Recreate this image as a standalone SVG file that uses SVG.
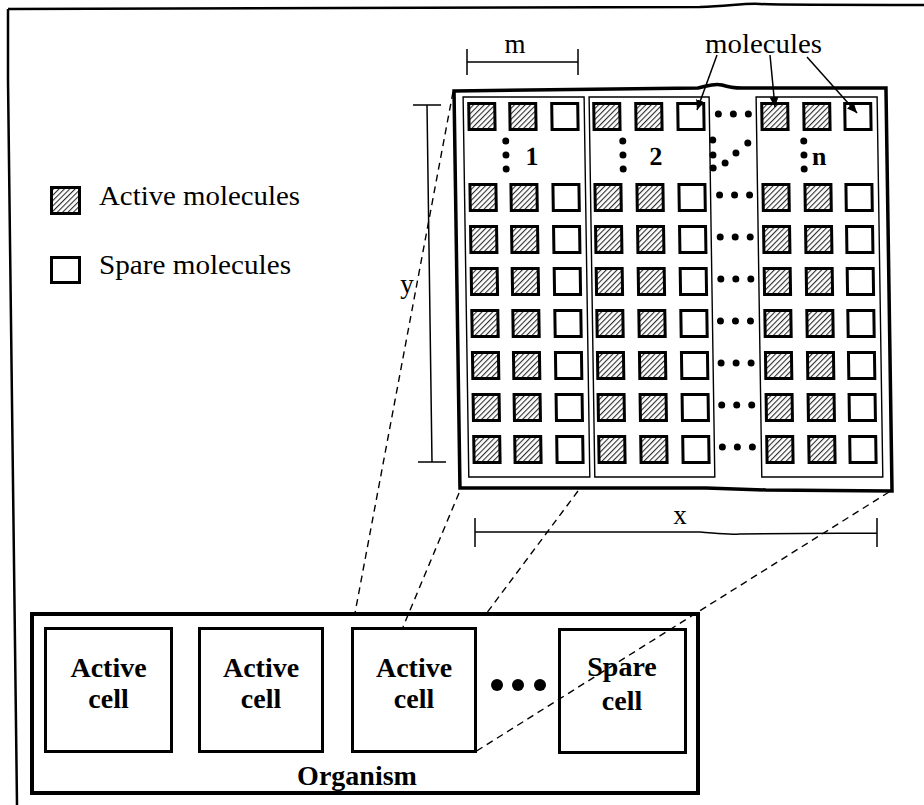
<svg xmlns="http://www.w3.org/2000/svg" xmlns:xlink="http://www.w3.org/1999/xlink" width="924" height="805" viewBox="0 0 924 805">
  <style>
    .ink { fill: none; stroke: #000; }
    .act { fill: url(#hatch); stroke: #000; stroke-width: 3; }
    .spr { fill: #fff; stroke: #000; stroke-width: 3; }
    .cellbox { fill: none; stroke: #000; stroke-width: 1.4; }
    .dot { fill: #000; }
    .serif { font-family: "Liberation Serif", "Times New Roman", serif; fill: #000; }
    .bold { font-weight: bold; }
    .dash { fill: none; stroke: #000; stroke-width: 1.4; stroke-dasharray: 7 5; }
    .dim { fill: none; stroke: #000; stroke-width: 1.5; }
    .lead { fill: none; stroke: #000; stroke-width: 1.5; }
    .node { fill: #fff; stroke: #000; stroke-width: 3; }
  </style>
  <defs>
    <pattern id="hatch" patternUnits="userSpaceOnUse" width="3.8" height="3.8" patternTransform="rotate(45)">
      <rect width="3.8" height="3.8" fill="#fff"/>
      <line x1="0.6" y1="0" x2="0.6" y2="3.8" stroke="#000" stroke-width="0.9"/>
    </pattern>
    <rect id="a" width="26" height="26" class="act"/>
    <rect id="s" width="26" height="26" class="spr"/>
    <marker id="tip" markerUnits="userSpaceOnUse" markerWidth="12" markerHeight="10" refX="10" refY="5" orient="auto">
      <path d="M0,0.5 L10,5 L0,9.5 Z" fill="#000"/>
    </marker>
  </defs>

  <rect width="924" height="805" fill="#fff"/>

  <!-- page frame -->
  <g id="frame" class="ink" stroke-width="2.5">
    <path d="M8,9 L700,7 C730,6 745,3 760,4 C775,5 800,5 924,5"/>
    <path d="M8,9 L8,80 L17,805"/>
  </g>

  <!-- legend -->
  <g id="legend">
    <rect x="51.5" y="187.5" width="28" height="26" class="act"/>
    <text x="99" y="205" class="serif" font-size="27" textLength="201" lengthAdjust="spacingAndGlyphs">Active molecules</text>
    <rect x="51.5" y="257.5" width="28" height="25" class="spr"/>
    <text x="99" y="274" class="serif" font-size="27" textLength="192" lengthAdjust="spacingAndGlyphs">Spare molecules</text>
  </g>

  <!-- cell array: molecules grouped into cells 1, 2 ... n -->
  <g id="cell-array" transform="matrix(1 0 0.015 1 -1.35 0)">
    <path id="array-frame" class="ink" stroke-width="3.5" d="M454,91 L698,88 C708,86 714,83 722,85 C728,87 734,88 742,88 L886,88 L886,491 L760,490 L700,488 L454,488 Z"/>

    <g id="cell-1">
      <rect class="cellbox" x="463" y="97" width="121" height="380"/>
      <use xlink:href="#a" x="468.5" y="103.5"/><use xlink:href="#a" x="509.5" y="103.5"/><use xlink:href="#s" x="551.5" y="103.5"/>
      <use xlink:href="#a" x="468.5" y="184.5"/><use xlink:href="#a" x="509.5" y="184.5"/><use xlink:href="#s" x="551.5" y="184.5"/>
      <use xlink:href="#a" x="468.5" y="226.5"/><use xlink:href="#a" x="509.5" y="226.5"/><use xlink:href="#s" x="551.5" y="226.5"/>
      <use xlink:href="#a" x="468.5" y="268.5"/><use xlink:href="#a" x="509.5" y="268.5"/><use xlink:href="#s" x="551.5" y="268.5"/>
      <use xlink:href="#a" x="468.5" y="310.5"/><use xlink:href="#a" x="509.5" y="310.5"/><use xlink:href="#s" x="551.5" y="310.5"/>
      <use xlink:href="#a" x="468.5" y="352.5"/><use xlink:href="#a" x="509.5" y="352.5"/><use xlink:href="#s" x="551.5" y="352.5"/>
      <use xlink:href="#a" x="468.5" y="394.5"/><use xlink:href="#a" x="509.5" y="394.5"/><use xlink:href="#s" x="551.5" y="394.5"/>
      <use xlink:href="#a" x="468.5" y="436.5"/><use xlink:href="#a" x="509.5" y="436.5"/><use xlink:href="#s" x="551.5" y="436.5"/>
      <circle class="dot" cx="505" cy="141" r="3.5"/><circle class="dot" cx="505" cy="155" r="3.5"/><circle class="dot" cx="505" cy="169" r="3.5"/>
      <text x="531" y="165" class="serif bold" font-size="26" text-anchor="middle">1</text>
    </g>

    <g id="cell-2">
      <rect class="cellbox" x="589" y="97" width="120" height="380"/>
      <use xlink:href="#a" x="593.5" y="103.5"/><use xlink:href="#a" x="635.5" y="103.5"/><use xlink:href="#s" x="677.5" y="103.5"/>
      <use xlink:href="#a" x="593.5" y="184.5"/><use xlink:href="#a" x="635.5" y="184.5"/><use xlink:href="#s" x="677.5" y="184.5"/>
      <use xlink:href="#a" x="593.5" y="226.5"/><use xlink:href="#a" x="635.5" y="226.5"/><use xlink:href="#s" x="677.5" y="226.5"/>
      <use xlink:href="#a" x="593.5" y="268.5"/><use xlink:href="#a" x="635.5" y="268.5"/><use xlink:href="#s" x="677.5" y="268.5"/>
      <use xlink:href="#a" x="593.5" y="310.5"/><use xlink:href="#a" x="635.5" y="310.5"/><use xlink:href="#s" x="677.5" y="310.5"/>
      <use xlink:href="#a" x="593.5" y="352.5"/><use xlink:href="#a" x="635.5" y="352.5"/><use xlink:href="#s" x="677.5" y="352.5"/>
      <use xlink:href="#a" x="593.5" y="394.5"/><use xlink:href="#a" x="635.5" y="394.5"/><use xlink:href="#s" x="677.5" y="394.5"/>
      <use xlink:href="#a" x="593.5" y="436.5"/><use xlink:href="#a" x="635.5" y="436.5"/><use xlink:href="#s" x="677.5" y="436.5"/>
      <circle class="dot" cx="622" cy="141" r="3.5"/><circle class="dot" cx="622" cy="155" r="3.5"/><circle class="dot" cx="622" cy="169" r="3.5"/>
      <text x="655" y="165" class="serif bold" font-size="26" text-anchor="middle">2</text>
    </g>

    <g id="cell-n">
      <rect class="cellbox" x="756" y="97" width="121" height="380"/>
      <use xlink:href="#a" x="761.5" y="103.5"/><use xlink:href="#a" x="803.5" y="103.5"/><use xlink:href="#s" x="844.5" y="103.5"/>
      <use xlink:href="#a" x="761.5" y="184.5"/><use xlink:href="#a" x="803.5" y="184.5"/><use xlink:href="#s" x="844.5" y="184.5"/>
      <use xlink:href="#a" x="761.5" y="226.5"/><use xlink:href="#a" x="803.5" y="226.5"/><use xlink:href="#s" x="844.5" y="226.5"/>
      <use xlink:href="#a" x="761.5" y="268.5"/><use xlink:href="#a" x="803.5" y="268.5"/><use xlink:href="#s" x="844.5" y="268.5"/>
      <use xlink:href="#a" x="761.5" y="310.5"/><use xlink:href="#a" x="803.5" y="310.5"/><use xlink:href="#s" x="844.5" y="310.5"/>
      <use xlink:href="#a" x="761.5" y="352.5"/><use xlink:href="#a" x="803.5" y="352.5"/><use xlink:href="#s" x="844.5" y="352.5"/>
      <use xlink:href="#a" x="761.5" y="394.5"/><use xlink:href="#a" x="803.5" y="394.5"/><use xlink:href="#s" x="844.5" y="394.5"/>
      <use xlink:href="#a" x="761.5" y="436.5"/><use xlink:href="#a" x="803.5" y="436.5"/><use xlink:href="#s" x="844.5" y="436.5"/>
      <circle class="dot" cx="803" cy="141" r="3.5"/><circle class="dot" cx="803" cy="155" r="3.5"/><circle class="dot" cx="803" cy="169" r="3.5"/>
      <text x="818" y="165" class="serif bold" font-size="26" text-anchor="middle">n</text>
    </g>

    <!-- ellipsis between cell 2 and cell n -->
    <g id="ellipsis-cells" class="dot">
      <circle cx="718" cy="114" r="3.5"/><circle cx="733" cy="114" r="3.5"/><circle cx="748" cy="114" r="3.5"/>
      <circle cx="712" cy="140" r="3.5"/><circle cx="712" cy="155" r="3.5"/><circle cx="712" cy="168" r="3.5"/>
      <circle cx="724" cy="163" r="3.5"/><circle cx="735" cy="153" r="3.5"/><circle cx="747" cy="143" r="3.5"/>
      <circle cx="718" cy="195" r="3.5"/><circle cx="733" cy="195" r="3.5"/><circle cx="748" cy="195" r="3.5"/>
      <circle cx="718" cy="237" r="3.5"/><circle cx="733" cy="237" r="3.5"/><circle cx="748" cy="237" r="3.5"/>
      <circle cx="718" cy="279" r="3.5"/><circle cx="733" cy="279" r="3.5"/><circle cx="748" cy="279" r="3.5"/>
      <circle cx="717" cy="321" r="3.5"/><circle cx="732" cy="321" r="3.5"/><circle cx="747" cy="321" r="3.5"/>
      <circle cx="717" cy="363" r="3.5"/><circle cx="732" cy="363" r="3.5"/><circle cx="747" cy="363" r="3.5"/>
      <circle cx="717" cy="405" r="3.5"/><circle cx="732" cy="405" r="3.5"/><circle cx="747" cy="405" r="3.5"/>
      <circle cx="717" cy="447" r="3.5"/><circle cx="732" cy="447" r="3.5"/><circle cx="747" cy="447" r="3.5"/>
    </g>
  </g>

  <!-- dimension markers -->
  <g id="dim-m">
    <path class="dim" d="M467,49 V75 M578,49 V75 M467,62 H578"/>
    <text x="515" y="53" class="serif" font-size="27" text-anchor="middle">m</text>
  </g>
  <g id="dim-y">
    <path class="dim" d="M413,105 H441 M427,105 L432,462 M418,462 H446"/>
    <text x="407" y="293" class="serif" font-size="27" text-anchor="middle">y</text>
  </g>
  <g id="dim-x">
    <path class="dim" d="M475,518 V547 M877,518 V547 M475,532 L700,532 C715,533 725,535 740,534 L877,533"/>
    <text x="680" y="524" class="serif" font-size="27" text-anchor="middle">x</text>
  </g>

  <!-- molecules label -->
  <g id="label-molecules">
    <text x="705" y="53" class="serif" font-size="27" textLength="117" lengthAdjust="spacingAndGlyphs">molecules</text>
  </g>

  <!-- organism with its cells -->
  <g id="organism">
    <rect x="32" y="614" width="666" height="179" fill="#fff" stroke="#000" stroke-width="4"/>
    <text x="357" y="785" class="serif bold" font-size="28" text-anchor="middle">Organism</text>
  </g>
  <g id="active-cell-1">
    <rect class="node" x="45.5" y="628.5" width="126" height="123"/>
    <text x="108.5" y="677" class="serif bold" font-size="28" text-anchor="middle">Active</text>
    <text x="108.5" y="708" class="serif bold" font-size="28" text-anchor="middle">cell</text>
  </g>
  <g id="active-cell-2">
    <rect class="node" x="199.5" y="628.5" width="123" height="123"/>
    <text x="261" y="677" class="serif bold" font-size="28" text-anchor="middle">Active</text>
    <text x="261" y="708" class="serif bold" font-size="28" text-anchor="middle">cell</text>
  </g>
  <g id="active-cell-3">
    <rect class="node" x="352.5" y="628.5" width="123" height="123"/>
    <text x="414" y="677" class="serif bold" font-size="28" text-anchor="middle">Active</text>
    <text x="414" y="708" class="serif bold" font-size="28" text-anchor="middle">cell</text>
  </g>
  <g id="ellipsis-organism" class="dot">
    <circle cx="497" cy="685" r="6"/><circle cx="518" cy="685" r="6"/><circle cx="540" cy="685" r="6"/>
  </g>
  <g id="spare-cell">
    <rect class="node" x="559.5" y="629.5" width="126" height="123"/>
    <text x="622" y="676" class="serif bold" font-size="28" text-anchor="middle">Spare</text>
    <text x="622" y="710" class="serif bold" font-size="28" text-anchor="middle">cell</text>
  </g>

  <!-- connectors: projection lines and label leaders -->
  <g id="connectors">
    <line class="dash" x1="453" y1="92" x2="355" y2="613"/>
    <line class="dash" x1="459" y1="493" x2="403" y2="627"/>
    <line class="dash" x1="578" y1="491" x2="486" y2="614"/>
    <line class="dash" x1="889" y1="492" x2="475" y2="752"/>
    <line class="lead" x1="717" y1="55" x2="697" y2="110" marker-end="url(#tip)"/>
    <line class="lead" x1="770" y1="55" x2="775" y2="107" marker-end="url(#tip)"/>
    <line class="lead" x1="807" y1="57" x2="857" y2="113" marker-end="url(#tip)"/>
  </g>
</svg>
